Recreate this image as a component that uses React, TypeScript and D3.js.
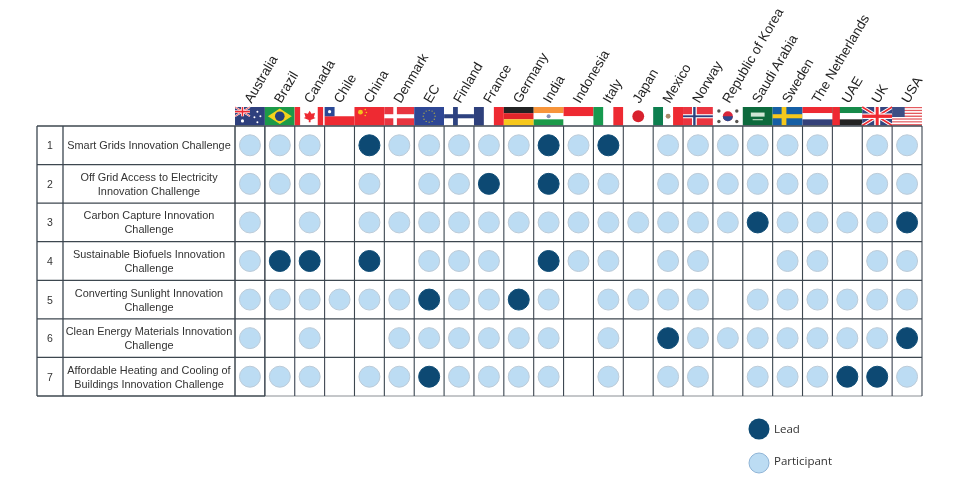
import React from "react";
import * as d3 from "d3";

const countries = ["Australia","Brazil","Canada","Chile","China","Denmark","EC","Finland","France","Germany","India","Indonesia","Italy","Japan","Mexico","Norway","Republic of Korea","Saudi Arabia","Sweden","The Netherlands","UAE","UK","USA"];
const challengeIds = ["1","2","3","4","5","6","7"];
const challengeLines = [
  ["Smart Grids Innovation Challenge"],
  ["Off Grid Access to Electricity","Innovation Challenge"],
  ["Carbon Capture Innovation","Challenge"],
  ["Sustainable Biofuels Innovation","Challenge"],
  ["Converting Sunlight Innovation","Challenge"],
  ["Clean Energy Materials Innovation","Challenge"],
  ["Affordable Heating and Cooling of","Buildings Innovation Challenge"],
];
// 0 = none, 1 = participant, 2 = lead
const row1 = [1,1,1,0,2,1,1,1,1,1,2,1,2,0,1,1,1,1,1,1,0,1,1];
const row2 = [1,1,1,0,1,0,1,1,2,0,2,1,1,0,1,1,1,1,1,1,0,1,1];
const row3 = [1,0,1,0,1,1,1,1,1,1,1,1,1,1,1,1,1,2,1,1,1,1,2];
const row4 = [1,2,2,0,2,0,1,1,1,0,2,1,1,0,1,1,0,0,1,1,0,1,1];
const row5 = [1,1,1,1,1,1,2,1,1,2,1,0,1,1,1,1,0,1,1,1,1,1,1];
const row6 = [1,0,1,0,0,1,1,1,1,1,1,0,1,0,2,1,1,1,1,1,1,1,2];
const row7 = [1,1,1,0,1,1,2,1,1,1,1,0,1,0,1,1,0,1,1,1,2,2,1];
const matrix = [row1,row2,row3,row4,row5,row6,row7];

const LEAD = "#0c4a73";
const PART = "#bcdcf3";
const PART_S = "#bccbd8";
const LINE = "#3c4650";

const x = d3.scaleBand<string>().domain(countries).range([235, 922]);
const y = d3.scaleBand<string>().domain(challengeIds).range([126, 396]);

const R = "#ee2a30", W = "#ffffff";
const Stripes = ({ c, w, h, v }: { c: string[]; w: number; h: number; v?: boolean }) => (
  <>{c.map((k, i) => v
    ? <rect key={i} x={(i * w) / c.length} width={w / c.length} height={h} fill={k} />
    : <rect key={i} y={(i * h) / c.length} width={w} height={h / c.length} fill={k} />)}</>
);
const Cross = ({ w, h, bg, a, b, t = 0.16 }: { w: number; h: number; bg: string; a: string; b?: string; t?: number }) => (
  <>
    <rect width={w} height={h} fill={bg} />
    <rect x={w * 0.3} width={w * t} height={h} fill={a} />
    <rect y={h * 0.39} width={w} height={h * 0.22} fill={a} />
    {b && <rect x={w * (0.3 + t / 2 - 0.04)} width={w * 0.08} height={h} fill={b} />}
    {b && <rect y={h * 0.45} width={w} height={h * 0.1} fill={b} />}
  </>
);
const UnionJack = ({ w, h }: { w: number; h: number }) => (
  <>
    <rect width={w} height={h} fill="#34457f" />
    <path d={`M0 0L${w} ${h}M${w} 0L0 ${h}`} stroke={W} strokeWidth={h * 0.2} />
    <path d={`M0 0L${w} ${h}M${w} 0L0 ${h}`} stroke={R} strokeWidth={h * 0.08} />
    <rect x={w * 0.4} width={w * 0.2} height={h} fill={W} />
    <rect y={h * 0.35} width={w} height={h * 0.3} fill={W} />
    <rect x={w * 0.45} width={w * 0.1} height={h} fill={R} />
    <rect y={h * 0.41} width={w} height={h * 0.18} fill={R} />
  </>
);

const flags: Record<string, (w: number, h: number) => React.ReactNode> = {
  Australia: (w, h) => <>
    <rect width={w} height={h} fill="#2f3f7d" />
    <g transform={`scale(0.5)`}><UnionJack w={w} h={h} /></g>
    <circle cx={w * 0.25} cy={h * 0.75} r={1.6} fill={W} />
    <circle cx={w * 0.75} cy={h * 0.25} r={1} fill={W} />
    <circle cx={w * 0.85} cy={h * 0.5} r={1} fill={W} />
    <circle cx={w * 0.65} cy={h * 0.55} r={1} fill={W} />
    <circle cx={w * 0.75} cy={h * 0.82} r={1} fill={W} />
  </>,
  Brazil: (w, h) => <>
    <rect width={w} height={h} fill="#1f9a48" />
    <path d={`M${w / 2} 1.5L${w - 3} ${h / 2}L${w / 2} ${h - 1.5}L3 ${h / 2}Z`} fill="#f4d21f" />
    <circle cx={w / 2} cy={h / 2} r={h * 0.26} fill="#27407f" />
  </>,
  Canada: (w, h) => <>
    <rect width={w} height={h} fill={W} />
    <rect width={w * 0.18} height={h} fill={R} />
    <rect x={w * 0.77} width={w * 0.18} height={h} fill={R} />
    <path d={`M${w / 2} ${h * 0.2}L${w * 0.56} ${h * 0.36}L${w * 0.68} ${h * 0.32}L${w * 0.64} ${h * 0.56}L${w * 0.7} ${h * 0.6}L${w * 0.53} ${h * 0.7}V${h * 0.82}H${w * 0.47}V${h * 0.7}L${w * 0.3} ${h * 0.6}L${w * 0.36} ${h * 0.56}L${w * 0.32} ${h * 0.32}L${w * 0.44} ${h * 0.36}Z`} fill={R} />
  </>,
  Chile: (w, h) => <>
    <rect width={w} height={h / 2} fill={W} />
    <rect y={h / 2} width={w} height={h / 2} fill={R} />
    <rect width={w / 3} height={h / 2} fill="#2a4a96" />
    <circle cx={w / 6} cy={h / 4} r={1.6} fill={W} />
  </>,
  China: (w, h) => <>
    <rect width={w} height={h} fill={R} />
    <circle cx={w * 0.2} cy={h * 0.28} r={2.4} fill="#f4c41f" />
    <circle cx={w * 0.36} cy={h * 0.14} r={0.8} fill="#f4c41f" />
    <circle cx={w * 0.4} cy={h * 0.3} r={0.8} fill="#f4c41f" />
    <circle cx={w * 0.36} cy={h * 0.46} r={0.8} fill="#f4c41f" />
  </>,
  Denmark: (w, h) => <Cross w={w} h={h} bg="#e8343f" a={W} t={0.12} />,
  EC: (w, h) => <>
    <rect width={w} height={h} fill="#2f4795" />
    {d3.range(12).map(i => <circle key={i} cx={w / 2 + h * 0.32 * Math.cos((i * Math.PI) / 6)} cy={h / 2 + h * 0.32 * Math.sin((i * Math.PI) / 6)} r={0.7} fill="#a7a64a" />)}
  </>,
  Finland: (w, h) => <Cross w={w} h={h} bg={W} a="#2d4380" />,
  France: (w, h) => <Stripes c={["#2d3f7c", W, R]} w={w} h={h} v />,
  Germany: (w, h) => <Stripes c={["#222222", "#e0262c", "#f7c81e"]} w={w} h={h} />,
  India: (w, h) => <>
    <Stripes c={["#f7953a", W, "#1a9a4a"]} w={w} h={h} />
    <circle cx={w / 2} cy={h / 2} r={2} fill="#8890b8" />
  </>,
  Indonesia: (w, h) => <Stripes c={[R, W]} w={w} h={h} />,
  Italy: (w, h) => <Stripes c={["#169a50", W, R]} w={w} h={h} v />,
  Japan: (w, h) => <>
    <rect width={w} height={h} fill={W} />
    <circle cx={w / 2} cy={h / 2} r={h * 0.32} fill="#d8232f" />
  </>,
  Mexico: (w, h) => <>
    <Stripes c={["#0f7f50", W, R]} w={w} h={h} v />
    <circle cx={w / 2} cy={h / 2} r={2.4} fill="#a88a6a" />
  </>,
  Norway: (w, h) => <Cross w={w} h={h} bg="#ea3440" a={W} b="#2b3f7e" />,
  "Republic of Korea": (w, h) => <>
    <rect width={w} height={h} fill={W} />
    <circle cx={w / 2} cy={h / 2} r={h * 0.27} fill="#d8283a" />
    <path d={`M${w / 2 - h * 0.27} ${h / 2}A${h * 0.27} ${h * 0.27} 0 0 0 ${w / 2 + h * 0.27} ${h / 2}Z`} fill="#2b4a90" />
    {[[0.2, 0.22], [0.8, 0.22], [0.2, 0.78], [0.8, 0.78]].map((p, i) => <circle key={i} cx={w * p[0]} cy={h * p[1]} r={1.7} fill="#57534f" />)}
  </>,
  "Saudi Arabia": (w, h) => <>
    <rect width={w} height={h} fill="#0f6b3c" />
    <rect x={w * 0.27} y={h * 0.3} width={w * 0.46} height={h * 0.22} fill="#cfe6d6" />
    <rect x={w * 0.33} y={h * 0.66} width={w * 0.34} height={1} fill="#cfe6d6" />
  </>,
  Sweden: (w, h) => <Cross w={w} h={h} bg="#155fa5" a="#f6c81e" />,
  "The Netherlands": (w, h) => <Stripes c={[R, W, "#35437a"]} w={w} h={h} />,
  UAE: (w, h) => <>
    <Stripes c={["#128a4a", W, "#222222"]} w={w} h={h} />
    <rect width={w * 0.25} height={h} fill={R} />
  </>,
  UK: (w, h) => <UnionJack w={w} h={h} />,
  USA: (w, h) => <>
    <Stripes c={d3.range(13).map(i => (i % 2 ? W : "#e45a5f"))} w={w} h={h} />
    <rect width={w * 0.42} height={h * 0.54} fill="#3d4f85" />
  </>,
};

export default function App() {
  const bw = x.bandwidth();
  const bh = y.bandwidth();
  const font = "'Liberation Sans', Arial, sans-serif";
  return (
    <svg width={960} height={481} viewBox="0 0 960 481" style={{ position: "absolute", left: 0, top: 0, background: "#fff" }}>
      <defs>
        <filter id="soft" x="-2%" y="-2%" width="104%" height="104%">
          <feGaussianBlur stdDeviation="0.45" />
        </filter>
      </defs>
      <g filter="url(#soft)">
        {countries.map(c => (
          <g key={c} transform={`translate(${x(c)},107)`}>{flags[c](bw, 18.5)}</g>
        ))}
        {/* rows */}
        {challengeIds.map(id => (
          <line key={id} x1={37} x2={922} y1={y(id)} y2={y(id)} stroke={LINE} strokeWidth={1.3} />
        ))}
        <line x1={265} x2={922} y1={396} y2={396} stroke="#8a8f94" strokeWidth={1} />
        <line x1={37} x2={265} y1={396} y2={396} stroke={LINE} strokeWidth={1.3} />
        {/* columns */}
        {[37, 63].map(v => <line key={v} x1={v} x2={v} y1={126} y2={396} stroke={LINE} strokeWidth={1.3} />)}
        {countries.map(c => (
          <line key={c} x1={x(c)} x2={x(c)} y1={126} y2={396} stroke={LINE} strokeWidth={c === "Australia" || c === "Brazil" ? 1.5 : 1.1} />
        ))}
        <line x1={922} x2={922} y1={126} y2={396} stroke={LINE} strokeWidth={1.1} />

        {matrix.map((row, i) => row.map((v, j) => v === 0 ? null : (
          <circle key={`${i}-${j}`} cx={x(countries[j])! + bw / 2} cy={y(challengeIds[i])! + bh / 2} r={10.5}
            fill={v === 2 ? LEAD : PART} stroke={v === 2 ? LEAD : PART_S} strokeWidth={1} />
        )))}

        {countries.map(c => (
          <text key={c} transform={`translate(${x(c)! + 16.5},104) rotate(-59.5)`} fontFamily={font} fontSize={13.5} fill="#222">{c}</text>
        ))}
        {challengeIds.map((id, i) => (
          <g key={id}>
            <text x={50} y={y(id)! + bh / 2 + 4} textAnchor="middle" fontFamily={font} fontSize={10.5} fill="#333">{id}</text>
            {challengeLines[i].map((t, k) => (
              <text key={k} x={149} y={y(id)! + bh / 2 + 4 + (k - (challengeLines[i].length - 1) / 2) * 14}
                textAnchor="middle" fontFamily={font} fontSize={10.9} fill="#333">{t}</text>
            ))}
          </g>
        ))}

        <circle cx={759} cy={429} r={10.5} fill={LEAD} />
        <circle cx={759} cy={463} r={10} fill={PART} stroke="#8fb4d6" strokeWidth={1} />
        <text x={774} y={433} fontFamily="'Open Sans', sans-serif" fontSize={11.5} fill="#333">Lead</text>
        <text x={774} y={465} fontFamily="'Open Sans', sans-serif" fontSize={11.5} fill="#333">Participant</text>
      </g>
    </svg>
  );
}
